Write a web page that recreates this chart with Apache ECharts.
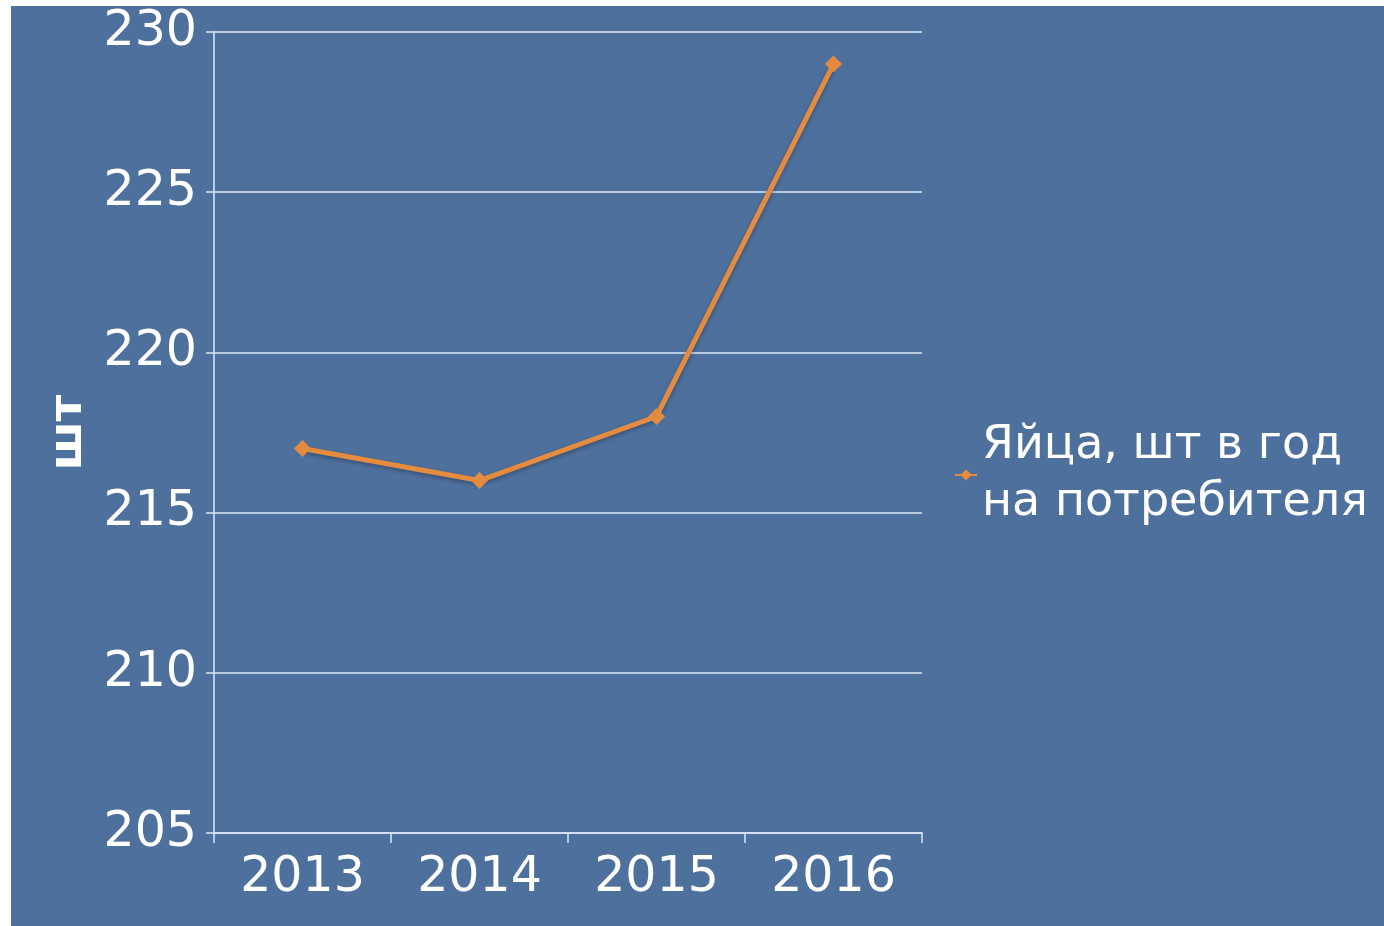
<!DOCTYPE html>
<html>
<head>
<meta charset="utf-8">
<script src="https://cdn.jsdelivr.net/npm/echarts@6/dist/echarts.min.js"></script>
<style>
  html, body { margin: 0; padding: 0; background: #ffffff; }
  #chart { position: absolute; left: 11px; top: 6px; width: 1373px; height: 920px; }
</style>
</head>
<body>
<div id="chart"></div>
<script>
const years = ['2013', '2014', '2015', '2016']
const eggs = [217, 216, 218, 229]
const seriesName = 'Яйца, шт в год\nна потребителя'
const yTitle = 'шт'

const chart = echarts.init(document.getElementById('chart'), null, { renderer: 'canvas' })
const font = "'DejaVu Sans', Verdana, sans-serif"
const gridColor = 'rgba(220, 232, 248, 0.75)'

chart.setOption({
  backgroundColor: '#4e709d',
  animation: false,
  grid: { left: 203, top: 26, width: 708, height: 801 },
  legend: {
    left: 938,
    top: 407,
    orient: 'vertical',
    itemWidth: 22,
    itemHeight: 14,
    itemGap: 8,
    textStyle: { color: '#ffffff', fontFamily: font, fontSize: 46, lineHeight: 57 },
    data: [seriesName]
  },
  xAxis: {
    type: 'category',
    data: years,
    boundaryGap: true,
    axisLine: { lineStyle: { color: gridColor, width: 2 } },
    axisTick: { show: true, length: 10, lineStyle: { color: gridColor, width: 2 } },
    axisLabel: { color: '#ffffff', fontFamily: font, fontSize: 49, margin: 21 }
  },
  yAxis: {
    type: 'value',
    min: 205,
    max: 230,
    interval: 5,
    name: yTitle,
    nameLocation: 'middle',
    nameRotate: 90,
    nameGap: 122,
    nameTextStyle: { color: '#ffffff', fontFamily: font, fontSize: 46, fontWeight: 'bold' },
    axisLine: { show: true, lineStyle: { color: gridColor, width: 2 } },
    axisTick: { show: true, length: 8, lineStyle: { color: gridColor, width: 2 } },
    splitLine: { lineStyle: { color: gridColor, width: 2 } },
    axisLabel: { color: '#ffffff', fontFamily: font, fontSize: 49, margin: 17 }
  },
  series: [{
    name: seriesName,
    type: 'line',
    data: eggs,
    symbol: 'diamond',
    symbolSize: 17,
    lineStyle: {
      color: '#e58b40',
      width: 5,
      shadowColor: 'rgba(0, 0, 0, 0.3)',
      shadowBlur: 4,
      shadowOffsetY: 2
    },
    itemStyle: { color: '#e58b40' }
  }]
})
</script>
</body>
</html>
